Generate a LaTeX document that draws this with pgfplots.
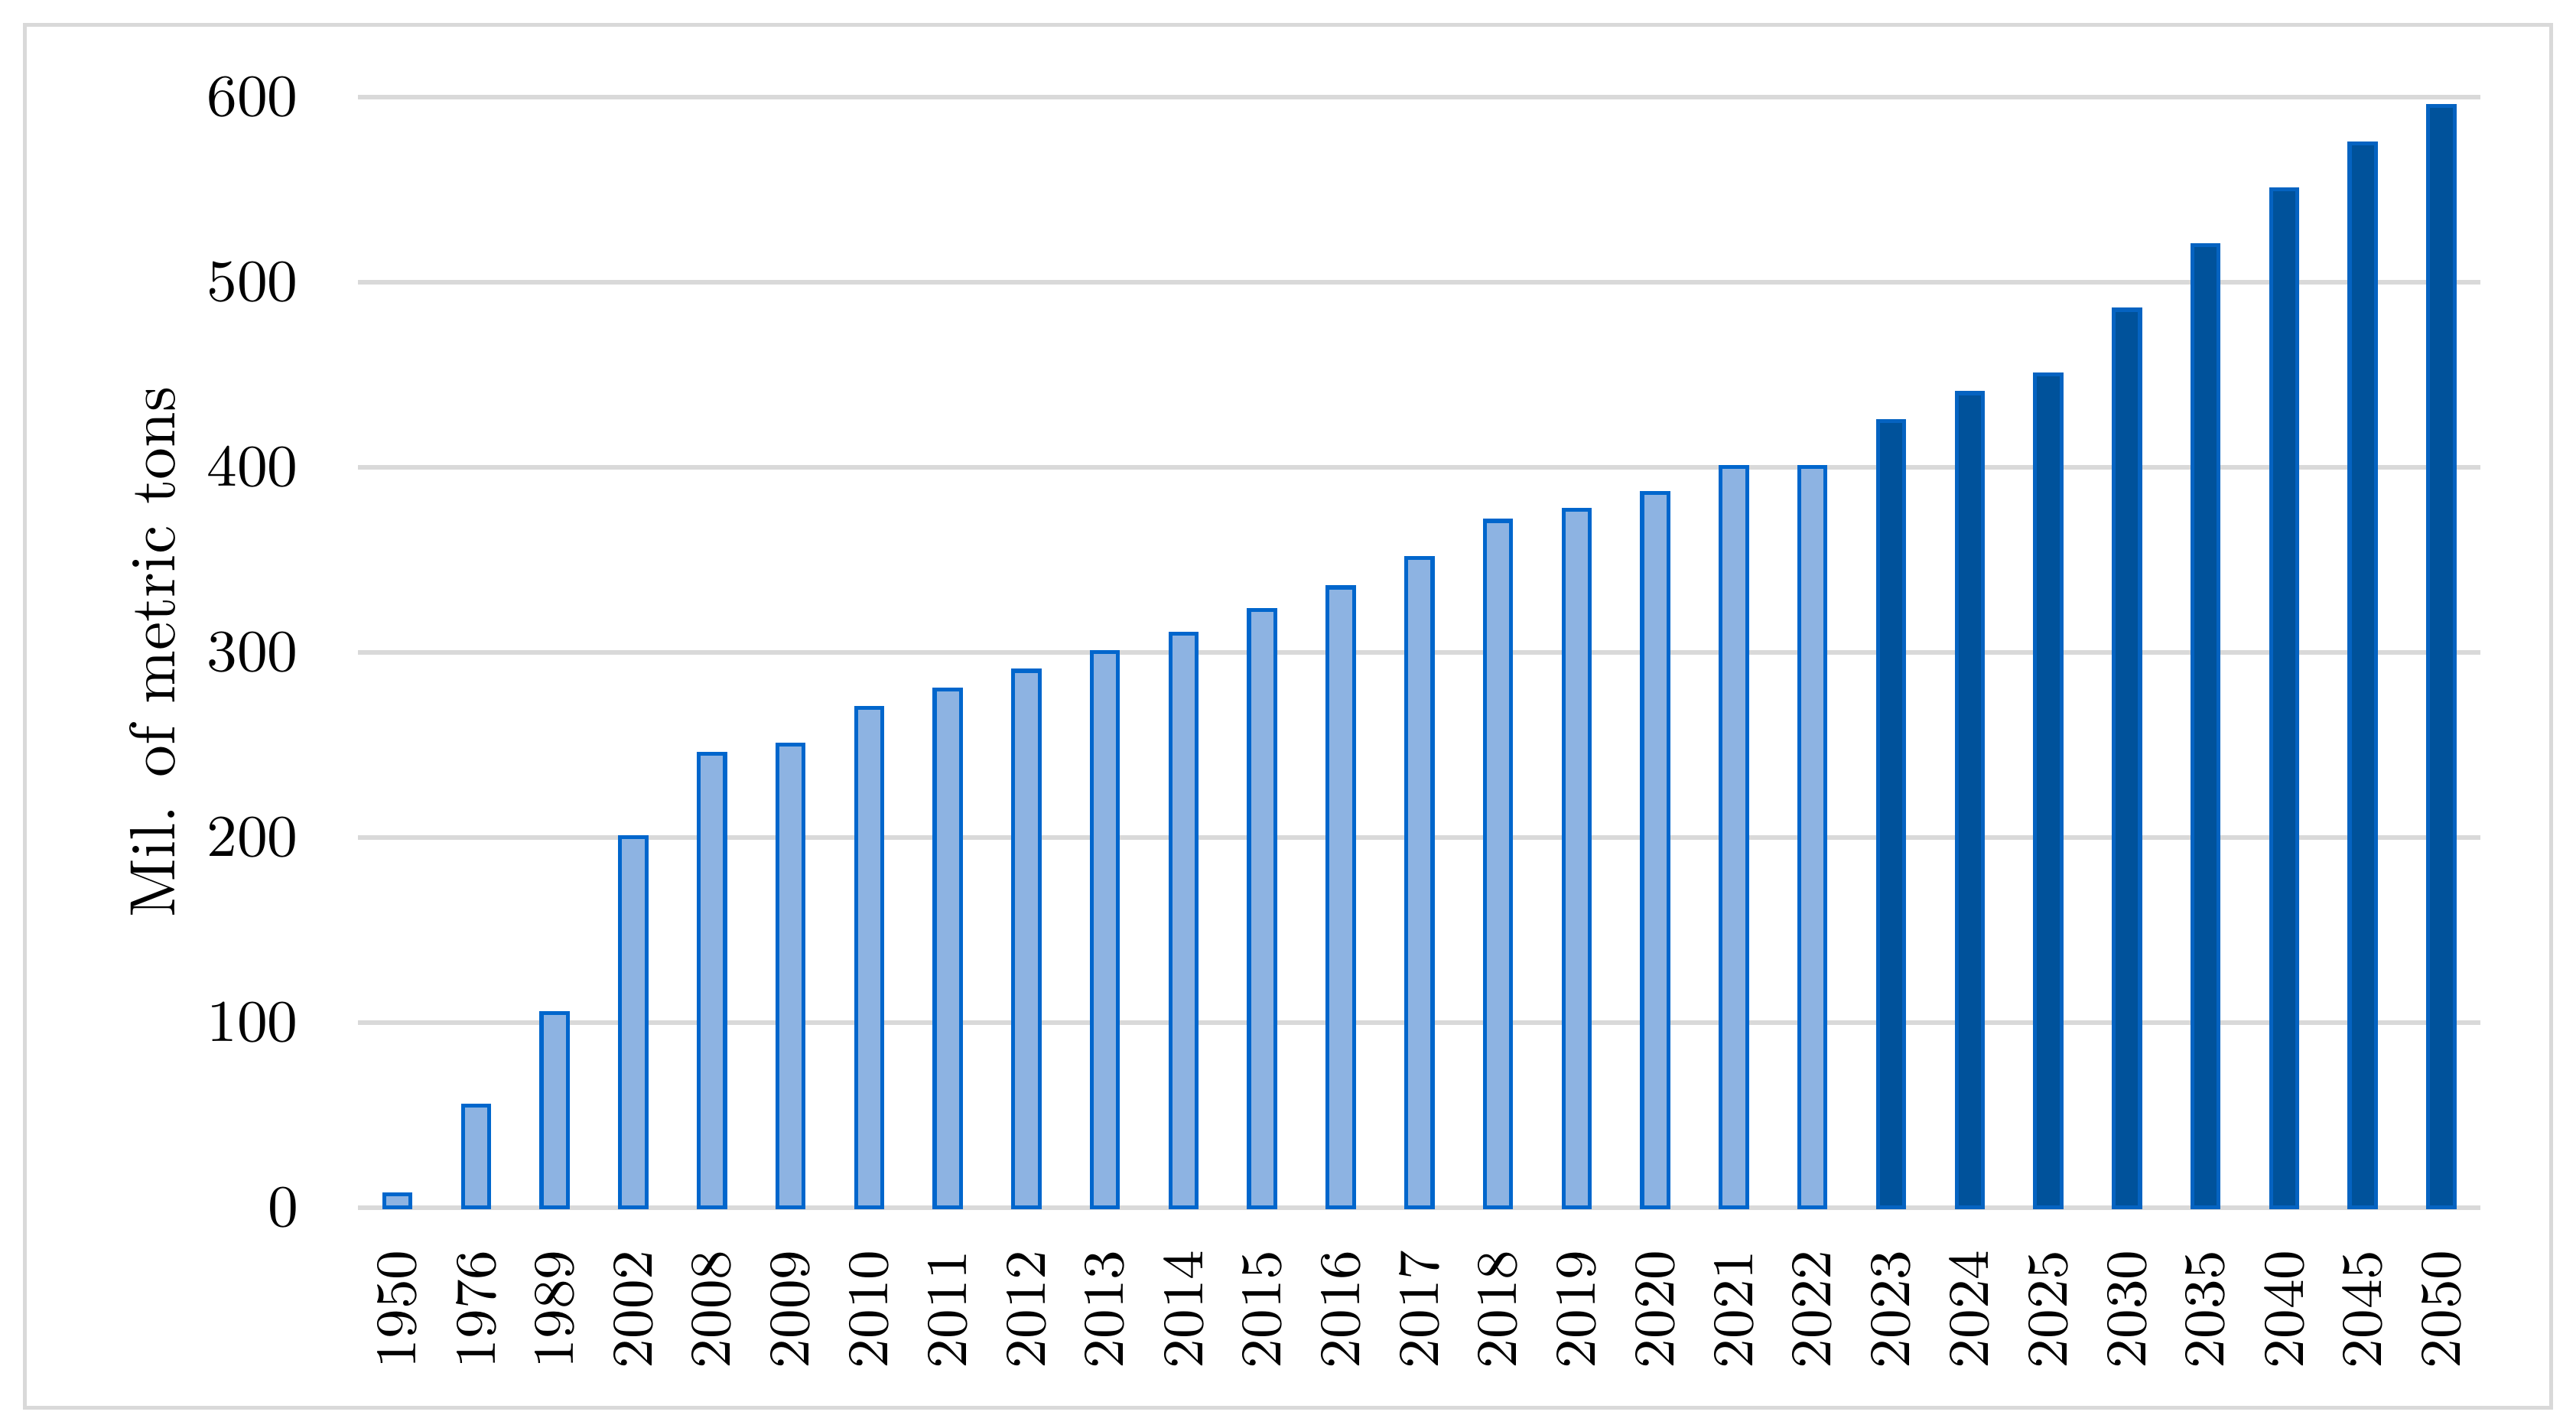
\documentclass[border=0pt]{standalone}
\usepackage{pgfplots}
\pgfplotsset{compat=1.18}
\definecolor{lightfill}{HTML}{8DB3E2}
\definecolor{lightedge}{HTML}{0066CC}
\definecolor{darkfill}{HTML}{00529B}
\definecolor{darkedge}{HTML}{0563C1}
\definecolor{gridgray}{HTML}{D9D9D9}
\begin{document}
\begin{tikzpicture}
\path[use as bounding box] (-54.5pt,-33.5pt) rectangle (337.5pt,183.75pt);
\draw[gridgray, line width=0.6pt] (-50.75pt,-30.5pt) rectangle (333.75pt,180pt);
\begin{axis}[
  at={(0,0)}, anchor=south west,
  scale only axis, width=323pt, height=169pt,
  xmin=-0.5, xmax=26.5, ymin=0, ymax=600,
  axis line style={draw=none},
  major tick length=0pt,
  ytick={0,100,...,600},
  xtick={0,...,26},
  xticklabels={1950,1976,1989,2002,2008,2009,2010,2011,2012,2013,2014,2015,2016,2017,2018,2019,2020,2021,2022,2023,2024,2025,2030,2035,2040,2045,2050},
  ymajorgrids, grid style={gridgray, line width=0.75pt},
  ticklabel style={font=\fontsize{8.75}{10}\selectfont},
  xticklabel style={rotate=90, anchor=east, inner xsep=6.3pt},
  yticklabel style={xshift=-5.6pt},
  every axis y label/.style={at={([xshift=-31.25pt]axis description cs:0,0.5)}, rotate=90, anchor=center, font=\fontsize{9.75}{11}\selectfont},
  ylabel={Mil. of metric tons},
  ybar, bar width=4pt, bar shift=0pt,
  clip=false,
]
\addplot[fill=lightfill, draw=lightedge, line width=0.6pt] coordinates {
 (0,7) (1,55) (2,105) (3,200) (4,245) (5,250) (6,270) (7,280) (8,290) (9,300)
 (10,310) (11,323) (12,335) (13,351) (14,371) (15,377) (16,386) (17,400) (18,400)};
\addplot[fill=darkfill, draw=darkedge, line width=0.6pt] coordinates {
 (19,425) (20,440) (21,450) (22,485) (23,520) (24,550) (25,575) (26,595)};
\end{axis}
\end{tikzpicture}
\end{document}
